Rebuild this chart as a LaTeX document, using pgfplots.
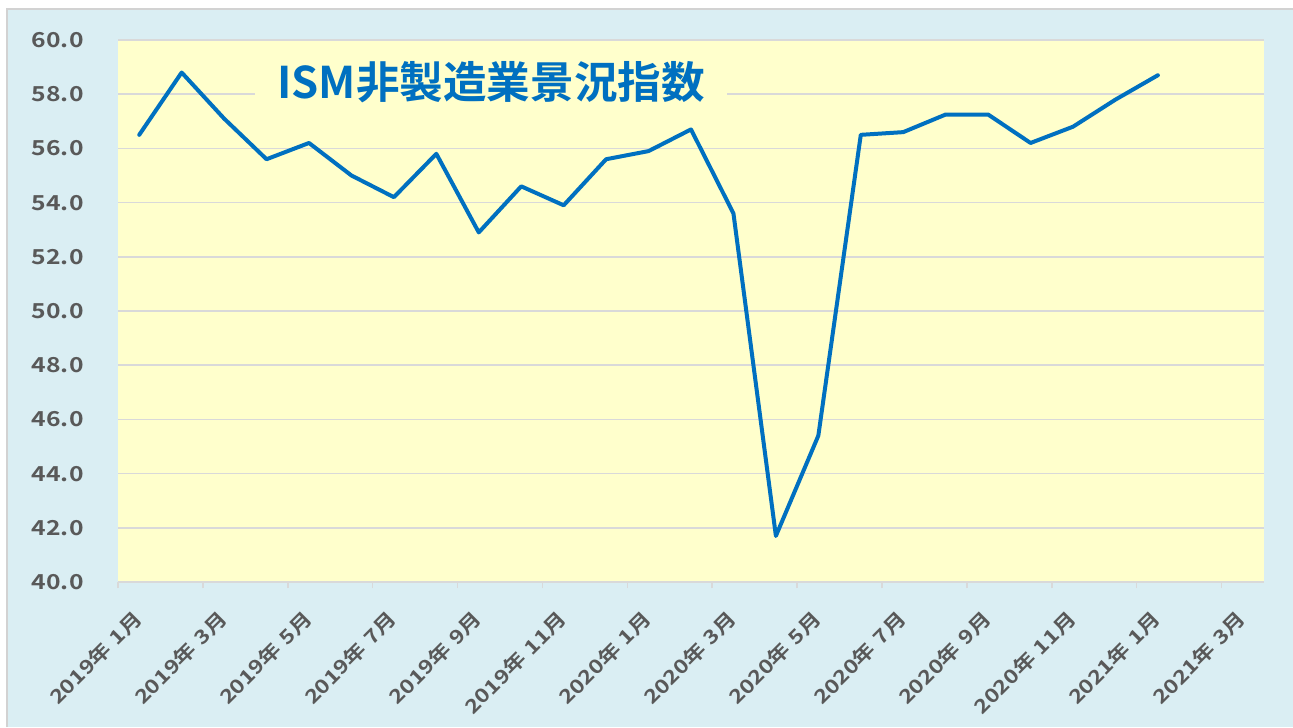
\documentclass[border=0pt]{standalone}
\usepackage{fontspec}
\usepackage{pgfplots}
\pgfplotsset{compat=1.18}
\setmainfont{Noto Sans CJK JP}[BoldFont={Noto Sans CJK JP Bold}]
\newfontfamily\cjk{Noto Sans CJK JP}[BoldFont={Noto Sans CJK JP Bold}]
\newfontfamily\lab{Noto Sans CJK JP Bold}[FakeStretch=1.2]
\definecolor{bgblue}{HTML}{DAEEF3}
\definecolor{plotbg}{HTML}{FFFFCC}
\definecolor{linec}{HTML}{0070C0}
\definecolor{gridc}{HTML}{D9D9D9}
\definecolor{labc}{HTML}{595959}
\newcommand{\ym}[2]{#1年\,\,#2月}
\begin{document}
\begin{tikzpicture}[x=0.5pt,y=0.5pt]
\path[use as bounding box] (0,0) rectangle (1293,727);
\fill[white] (0,0) rectangle (1293,727);
\fill[bgblue] (7,0) rectangle (1293,718);
\draw[gray!35, line width=1pt] (7,0) -- (7,718) -- (1293,718);
\begin{axis}[
  at={(59pt,72.5pt)}, anchor=south west,
  scale only axis, width=573pt, height=271pt,
  xmin=0, xmax=27, ymin=40, ymax=60,
  xtick={0,2,...,26}, ytick={40,42,...,60},
  xticklabels={\ym{2019}{1},\ym{2019}{3},\ym{2019}{5},\ym{2019}{7},\ym{2019}{9},\ym{2019}{11},\ym{2020}{1},\ym{2020}{3},\ym{2020}{5},\ym{2020}{7},\ym{2020}{9},\ym{2020}{11},\ym{2021}{1},\ym{2021}{3}},
  axis background/.style={fill=plotbg},
  ymajorgrids, grid style={gridc, line width=0.75pt},
  separate axis lines, axis lines*=left,
  x axis line style={gridc, line width=0.75pt, -},
  y axis line style={draw=none},
  tick align=outside, major tick length=3pt,
  xtick style={gridc, line width=0.75pt},
  ytick style={draw=none},
  /pgf/number format/assume math mode=true,
  yticklabel={\pgfmathprintnumber[fixed,fixed zerofill,precision=1]{\tick}},
  yticklabel style={font=\lab\fontsize{10.3}{11}\selectfont, text=labc, anchor=east, inner sep=0pt, xshift=-14pt},
  xticklabel style={font=\lab\fontsize{9.6}{11}\selectfont, text=labc, rotate=45, anchor=east, inner sep=0pt, xshift=-2.3pt, yshift=-16.9pt},
  clip=false,
]
\addplot[linec, line width=2pt, line join=round, line cap=round] coordinates {
(0.5,56.5) (1.5,58.8) (2.5,57.1) (3.5,55.6) (4.5,56.2) (5.5,55.0) (6.5,54.2)
(7.5,55.8) (8.5,52.9) (9.5,54.6) (10.5,53.9) (11.5,55.6) (12.5,55.9) (13.5,56.7)
(14.5,53.6) (15.5,41.7) (16.5,45.4) (17.5,56.5) (18.5,56.6) (19.5,57.25) (20.5,57.25)
(21.5,56.2) (22.5,56.8) (23.5,57.8) (24.5,58.7)
};
\node[fill=plotbg, minimum width=236pt, minimum height=22pt, inner sep=0pt,
  text=linec, font=\cjk\bfseries\fontsize{21.8}{22}\selectfont]
  at (axis cs:8.79,58.45) {ISM非製造業景況指数};
\end{axis}
\end{tikzpicture}
\end{document}
